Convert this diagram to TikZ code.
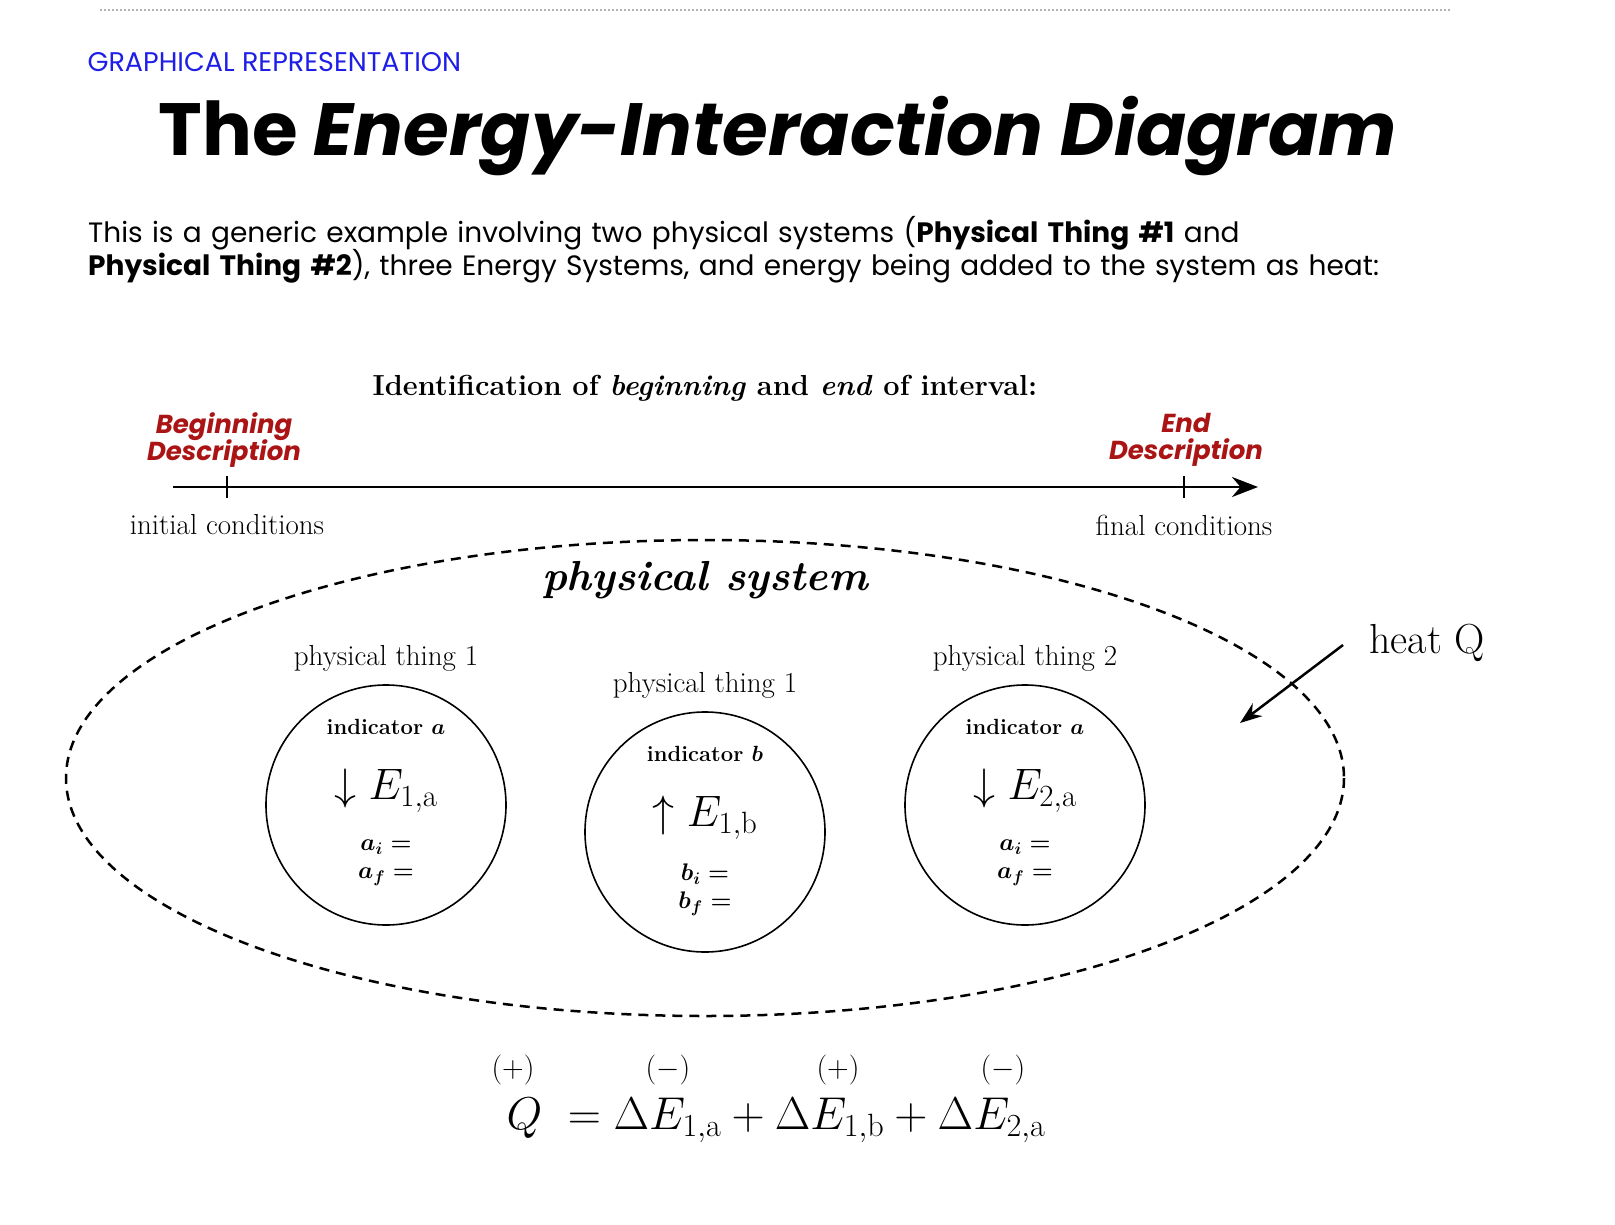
\RequirePackage{fix-cm}
\documentclass[tikz,border=0pt]{standalone}
\usepackage{amsmath}
\usepackage{fontspec}
\newfontfamily\sansf{Poppins}
\usetikzlibrary{arrows.meta}
\definecolor{lnkblue}{RGB}{30,30,230}
\definecolor{darkred}{RGB}{170,20,20}
\newcommand{\fs}[1]{\fontsize{#1pt}{\dimexpr #1pt*6/5\relax}\selectfont}
\begin{document}
\begin{tikzpicture}[x=1pt,y=-1pt,
  circ/.style={draw,line width=1.6pt,circle,minimum size=240pt,inner sep=0},
  serif/.style={font=\fs{29}},
  red/.style={text=darkred,align=center,font=\sansf\bfseries\itshape\fs{26}}]
\useasboundingbox (0,0) rectangle (1615,1224);
\draw[gray!60,line width=2pt,dotted] (100,10) -- (1450,10);
\node[anchor=west,text=lnkblue,font=\sansf\fs{27}] (gr) at (84,62) {GRAPHICAL REPRESENTATION};
\node[font=\sansf\bfseries\fs{74}] (title) at (778,136) {The \textit{Energy-Interaction Diagram}};
\node[anchor=north west,align=left,font=\sansf\fs{28},text width=1450pt,inner sep=0] (para) at (88,216)
 {This is a generic example involving two physical systems (\textbf{Physical Thing \#1} and\\[-2pt]
 \textbf{Physical Thing \#2}), three Energy Systems, and energy being added to the system as heat:};
\node[font=\bfseries\fs{29}] (ident) at (705,388) {Identification of \textit{beginning} and \textit{end} of interval:};
\node[red] (beg) at (224,440) {Beginning\\[-4pt]Description};
\node[red] (endd) at (1186,440) {End\\[-4pt]Description};
\coordinate (a0) at (173,487); \coordinate (a1) at (1258,487);
\draw[line width=2.5pt,-{Stealth[length=26pt,width=20pt]}] (a0) -- (a1);
\draw[line width=2pt] (227,476) -- (227,498) (1184,476) -- (1184,498);
\node[serif] (ic) at (227,525) {initial conditions};
\node[serif] (fc) at (1184,525) {final conditions};
\draw[line width=2.5pt,dash pattern=on 10pt off 7pt] (705,778) ellipse [x radius=639, y radius=238];
\node[font=\bfseries\itshape\fs{42}] (ps) at (705,580) {physical system};
\foreach \n/\x/\y/\lab/\ind/\arr/\EE/\vv in {c1/386/805/{physical thing 1}/a/\downarrow/{1,a}/a, c2/705/832/{physical thing 1}/b/\uparrow/{1,b}/b, c3/1025/805/{physical thing 2}/a/\downarrow/{2,a}/a}{
  \node[circ] (\n) at (\x,\y) {};
  \node[serif] at (\x,\y-147) {\lab};
  \node[font=\bfseries\fs{22}] at (\x,\y-78) {indicator $\boldsymbol{\ind}$};
  \node[font=\fs{44}] at (\x,\y-14) {$\arr E_{\mathrm{\EE}}$};
  \node[font=\fs{24}] at (\x,\y+42) {$\boldsymbol{\vv_i =}$};
  \node[font=\fs{24}] at (\x,\y+72) {$\boldsymbol{\vv_f =}$};
}
\coordinate (h0) at (1343,645); \coordinate (h1) at (1240,723);
\draw[line width=2.5pt,-{Stealth[length=22pt,width=16pt]}] (h0) -- (h1);
\node[font=\fs{42}] (hq) at (1427,643) {heat Q};
\node[font=\fs{30}] at (513,1070) {$(+)$};
\node[font=\fs{30}] at (668,1070) {$(-)$};
\node[font=\fs{30}] at (838,1070) {$(+)$};
\node[font=\fs{30}] at (1003,1070) {$(-)$};
\node[font=\fs{46}] (eq) at (776,1120) {$Q\;=\Delta E_{1,\mathrm{a}}+\Delta E_{1,\mathrm{b}}+\Delta E_{2,\mathrm{a}}$};
\end{tikzpicture}
\end{document}
